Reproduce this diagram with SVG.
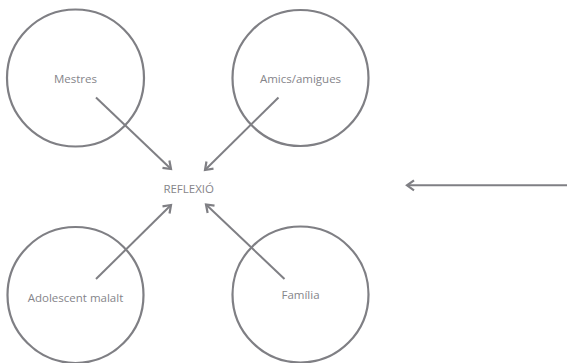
<svg xmlns="http://www.w3.org/2000/svg" width="567" height="363" viewBox="0 0 567 363">
<defs>
<style>
.c{fill:none;stroke:#7f7f84;stroke-width:2.2}
.a{fill:none;stroke:#7f7f84;stroke-width:2;marker-end:url(#ah)}
.t{font-family:"Open Sans","Liberation Sans",sans-serif;font-size:11.5px;fill:#85858a;text-anchor:middle}
</style>
<marker id="ah" markerUnits="userSpaceOnUse" markerWidth="14" markerHeight="14" viewBox="-10 -7 12 14" refX="0" refY="0" orient="auto">
<path d="M-7,-5 L0,0 L-7,5" fill="none" stroke="#7f7f84" stroke-width="2.2" stroke-linejoin="miter"/>
</marker>
</defs>
<rect width="567" height="363" fill="#fff"/>
<g id="mestres"><circle class="c" cx="75.5" cy="78" r="68.5"/><text class="t" x="75.5" y="82.5">Mestres</text></g>
<g id="amics"><circle class="c" cx="300.5" cy="78" r="68"/><text class="t" x="300.5" y="82.5">Amics/amigues</text></g>
<g id="adolescent"><circle class="c" cx="75.5" cy="295" r="68"/><text class="t" x="75.5" y="301.5">Adolescent malalt</text></g>
<g id="familia"><circle class="c" cx="300.5" cy="294.5" r="68"/><text class="t" x="300.5" y="298.5">Família</text></g>
<g id="reflexio"><text class="t" x="188.7" y="192.5">REFLEXIÓ</text></g>
<g id="connectors">
<line class="a" x1="96" y1="97.5" x2="171" y2="169"/>
<line class="a" x1="278.5" y1="97.5" x2="205" y2="170"/>
<line class="a" x1="96" y1="279" x2="171" y2="205"/>
<line class="a" x1="284.5" y1="279" x2="206" y2="204.5"/>
<line class="a" x1="567" y1="185.3" x2="407" y2="185.3"/>
</g>
</svg>
